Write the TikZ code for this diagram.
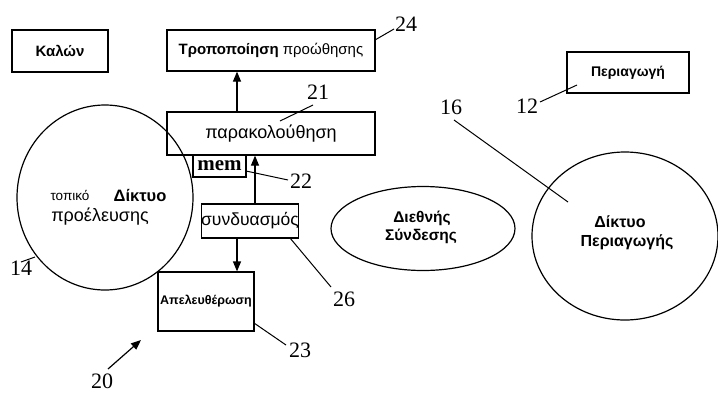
\documentclass[tikz,border=0pt]{standalone}
\usepackage{fontspec}
\setmainfont{Liberation Sans}
\newfontfamily\numfont{Liberation Serif}
\usetikzlibrary{arrows.meta,shapes.geometric}
\newcommand{\fs}[1]{\fontsize{#1}{#1}\selectfont}
\tikzset{
  box/.style={draw,line width=1.2pt,rectangle,inner sep=0pt,anchor=center},
  oval/.style={draw,line width=1.2pt,ellipse,inner sep=0pt},
  arr/.style={line width=1.2pt,-{Triangle[length=10pt,width=8pt]}},
  lead/.style={line width=1pt},
  num/.style={font=\numfont\fs{22},inner sep=0pt},
  lbl/.style={inner sep=0pt},
}
\begin{document}
\begin{tikzpicture}[x=1pt,y=-1pt]
\useasboundingbox (0,0) rectangle (718,392);
% boxes
\node[box,minimum width=96pt,minimum height=42pt,font=\bfseries\fs{15}] (kalon) at (60,51) {Καλών};
\node[box,minimum width=208pt,minimum height=41pt,font=\fs{15}] (trop) at (271,50.5) {\textbf{Τροποποίηση} προώθησης};
\node[box,minimum width=208pt,minimum height=43pt,font=\fs{18}] (para) at (271,133.5) {παρακολούθηση};
\node[box,minimum width=53pt,minimum height=22pt,font=\numfont\bfseries\fs{21}] (mem) at (219.5,166) {mem};
\node[box,minimum width=94pt,minimum height=34pt,font=\fs{17.5}] (synd) at (250,221) {συνδυασμός};
\node[box,minimum width=96pt,minimum height=59pt,font=\bfseries\fs{12.5}] (apel) at (206,301.5) {Απελευθέρωση};
\node[box,minimum width=122pt,minimum height=41pt,font=\bfseries\fs{14}] (periag) at (628,72.5) {Περιαγωγή};
% ovals
\node[oval,minimum width=176pt,minimum height=185pt] (local) at (105,197.5) {};
\node[lbl,font=\fs{13.5}] (topiko) at (70,195) {τοπικό};
\node[lbl,font=\bfseries\fs{16.5}] (diktyo1) at (140,196) {Δίκτυο};
\node[lbl,font=\fs{18}] (proel) at (100,217) {προέλευσης};
\node[oval,minimum width=184pt,minimum height=84pt] (intl) at (423,228.5) {};
\node[lbl,font=\bfseries\fs{15.5}] (dieth) at (422,218) {Διεθνής};
\node[lbl,font=\bfseries\fs{15.5}] (synd2) at (421,236) {Σύνδεσης};
\node[oval,minimum width=186pt,minimum height=168pt] (roam) at (625,236) {};
\node[lbl,font=\bfseries\fs{16}] (diktyo2) at (620,222) {Δίκτυο};
\node[lbl,font=\bfseries\fs{16}] (periag2) at (627,242) {Περιαγωγής};
% arrows
\coordinate (xa) at (237,0);
\coordinate (xb) at (255,0);
\draw[arr] (para.north -| xa) -- (trop.south -| xa);
\draw[arr] (synd.north -| xb) -- (para.south -| xb);
\draw[arr] (synd.south -| xa) -- (apel.north -| xa);
% labels
\node[num] (n24) at (406,24) {24};
\coordinate (e24) at (375,40);
\draw[lead] (e24) -- (394,29);
\node[num] (n21) at (318,92) {21};
\coordinate (e21) at (280,121);
\draw[lead] (e21) -- (313,105);
\node[num] (n22) at (301,181) {22};
\coordinate (e22) at (246,171);
\draw[lead] (e22) -- (288,180);
\node[num] (n26) at (344,299) {26};
\coordinate (e26) at (290,238);
\draw[lead] (e26) -- (331,287);
\node[num] (n23) at (300,350) {23};
\coordinate (e23) at (254,323);
\draw[lead] (e23) -- (286,345);
\node[num] (n14) at (21,268) {14};
\coordinate (e14) at (35,257);
\draw[lead] (e14) -- (21,262);
\node[num] (n16) at (451,107) {16};
\coordinate (e16) at (568,202);
\draw[lead] (454,120) -- (e16);
\node[num] (n12) at (527,106) {12};
\coordinate (e12) at (577,85);
\draw[lead] (540,102) -- (e12);
\node[num] (n20) at (102,381) {20};
\coordinate (e20) at (141,340);
\draw[arr] (108,369) -- (e20);
\end{tikzpicture}
\end{document}
